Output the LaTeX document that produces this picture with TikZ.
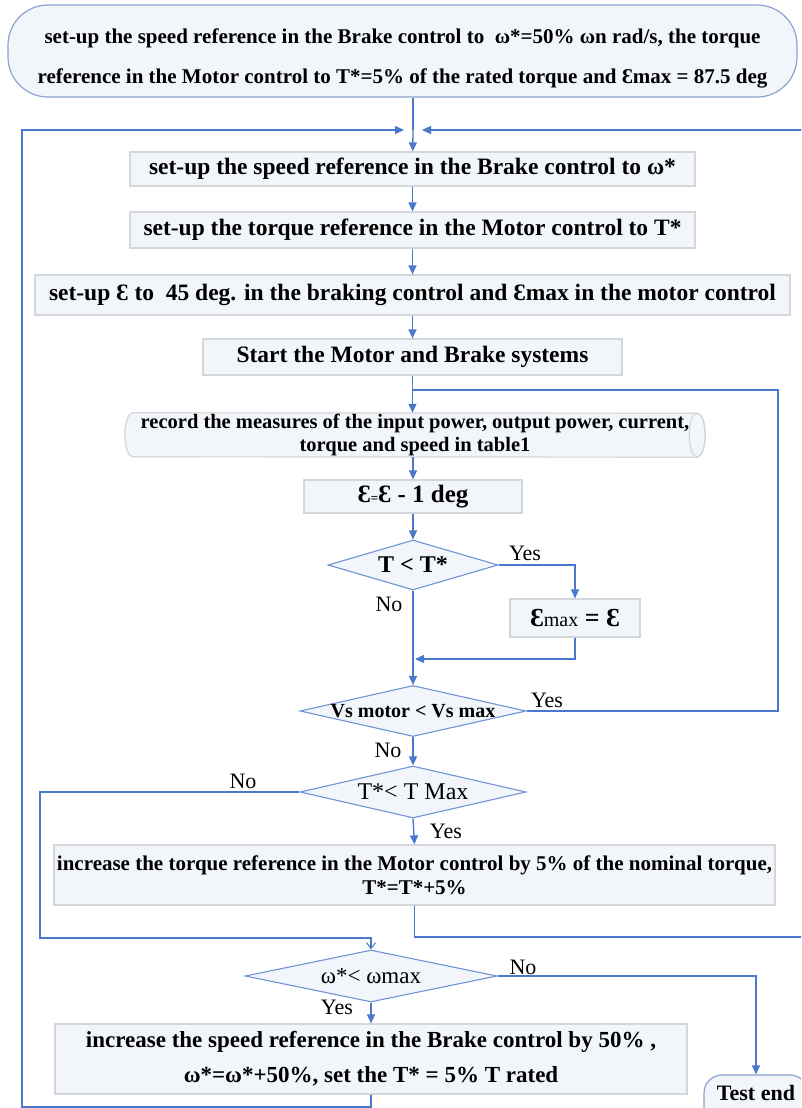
\documentclass[tikz,border=0pt]{standalone}
\usepackage{fontspec}
\setmainfont{Liberation Serif}
\usetikzlibrary{shapes.geometric,arrows.meta,calc}

\definecolor{flow}{HTML}{4A78CC}
\definecolor{flowthin}{HTML}{6F93D3}
\definecolor{boxfill}{HTML}{F2F6FA}
\definecolor{boxdraw}{HTML}{D3D7DB}
\definecolor{termdraw}{HTML}{8AA3CF}

\newcommand{\fs}[2]{\fontsize{#1}{#2}\selectfont}

\tikzset{
  proc/.style={draw=boxdraw, line width=1.2pt, fill=boxfill, inner sep=0pt,
    align=center, font=\bfseries\fs{23.5}{27}},
  term/.style={draw=termdraw, line width=1.2pt, fill=boxfill, inner sep=0pt,
    align=center, font=\bfseries\fs{23}{27}},
  decide/.style={diamond, draw=flowthin, line width=1.1pt, fill=boxfill,
    inner sep=0pt},
  dtext/.style={font=\bfseries\fs{22}{26}, inner sep=0pt},
  lbl/.style={font=\fs{22}{26}, inner sep=0pt},
  flowline/.style={draw=flow, line width=1.3pt},
  arr/.style={flowline, -{Triangle[length=9pt,width=8pt]}},
  openarr/.style={flowline, -{Straight Barb[length=6pt,width=9pt,line width=1pt]}},
}

\begin{document}
\begin{tikzpicture}[x=1pt,y=-1pt]
\useasboundingbox (0,0) rectangle (801,1108);
\clip (0,0) rectangle (801,1108);
\fill[white] (0,0) rectangle (801,1108);

% ---- nodes ----
\node[term, rounded corners=40pt, minimum width=789pt, minimum height=92pt,
      label={[font=\bfseries\fs{21}{40}, align=center, yshift=-7pt]center:set-up the speed reference in the Brake control to\ \ ω*=50\% ωn rad/s, the torque\\
   reference in the Motor control to T*=5\% of the rated torque and Ɛmax = 87.5 deg}]
  (start) at (402.5,51) {};

\node[proc, minimum width=565pt, minimum height=34pt] (b1) at (412.5,169)
  {set-up the speed reference in the Brake control to ω*};
\node[proc, minimum width=565pt, minimum height=36pt] (b2) at (412.5,230)
  {set-up the torque reference in the Motor control to T*};
\node[proc, minimum width=755pt, minimum height=40pt] (b3) at (412.5,295)
  {set-up Ɛ to\ \ 45 deg. in the braking control and Ɛmax in the motor control};
\node[proc, minimum width=419pt, minimum height=36pt] (b4) at (412.5,357)
  {Start the Motor and Brake systems};

% data store drawn as a horizontal cylinder around an outline-free node
\node[inner sep=0pt, minimum width=580pt, minimum height=44pt] (rec) at (415,435) {};
\path[fill=boxfill, draw=boxdraw, line width=1.2pt]
  ($(rec.north west)+(8,0)$) arc[start angle=270, end angle=90, x radius=8, y radius=22]
  -- ($(rec.south east)-(8,0)$) arc[start angle=90, end angle=-90, x radius=8, y radius=22]
  -- cycle;
\draw[boxdraw, line width=1.2pt] ($(rec.east)-(8,0)$) ellipse[x radius=8, y radius=22];
\node[font=\bfseries\fs{20.5}{23}, align=center, inner sep=0pt] (rect) at (rec.center)
  {record the measures of the input power, output power, current,\\torque and speed in table1};

\node[proc, minimum width=218pt, minimum height=33pt, font=\bfseries\fs{25}{29}] (eps) at (413,496.5)
  {Ɛ{\fs{13}{15}=}Ɛ - 1 deg};

\node[decide, minimum width=170pt, minimum height=50pt,
      label={[dtext, font=\bfseries\fs{24}{28}]center:T < T*}] (d1) at (413,565) {};

\node[proc, minimum width=130pt, minimum height=38pt, font=\bfseries\fs{26}{30}] (emx) at (575,618)
  {Ɛ{\mdseries\fs{20}{24}max} = Ɛ};

\node[decide, minimum width=226pt, minimum height=51pt,
      label={[dtext, font=\bfseries\fs{20}{24}]center:Vs motor < Vs max}] (d2) at (413,711) {};

\node[decide, minimum width=226pt, minimum height=52pt,
      label={[dtext, font=\fs{24}{28}]center:T*< T Max}] (d3) at (413,792) {};

\node[proc, minimum width=721pt, minimum height=60pt, font=\bfseries\fs{21}{24}] (inc1) at (414.5,875)
  {increase the torque reference in the Motor control by 5\% of the nominal torque,\\T*=T*+5\%};

\node[decide, minimum width=252pt, minimum height=52pt,
      label={[dtext, font=\fs{23}{27}]center:ω*< ωmax}] (d4) at (371,976) {};

\node[proc, minimum width=632pt, minimum height=70pt, font=\bfseries\fs{23}{35}] (inc2) at (371,1059)
  {increase the speed reference in the Brake control by 50\% ,\\ω*=ω*+50\%, set the T* = 5\% T rated};

\node[term, rounded corners=18pt, minimum width=104pt, minimum height=50pt,
      label={[font=\bfseries\fs{22}{26}, inner sep=0pt, yshift=7pt]center:Test end}]
  (tend) at (756,1100) {};

% ---- route points ----
\coordinate (J)  at (413,130);
\coordinate (JL) at (404,130);
\coordinate (JR) at (422,130);
\coordinate (LB) at (22,1107);
\coordinate (LT) at (22,130);
\coordinate (RB) at (830,937);
\coordinate (RT) at (830,130);
\coordinate (VR1) at (778,711);
\coordinate (VR2) at (778,390);
\coordinate (VJ) at (413,390);
\coordinate (MJ) at (415,659);
\coordinate (NB) at (40,938);

% ---- connectors ----
\draw[flowline] (J |- start.south) -- (J);
\draw[arr] (J) -- (b1);
\draw[arr] (b1) -- (b2);
\draw[arr] (b2) -- (b3);
\draw[arr] (b3) -- (b4);
\draw[arr] (b4.south) -- (b4.south |- rec.north);
\draw[arr] (eps.north |- rec.south) -- (eps.north);
\draw[arr] (eps) -- (d1);
\draw[arr] (d1.east) -| (emx.north);
\draw[arr] (emx.south) |- (MJ);
\draw[arr] (d1.south) -- (d2.north);
\draw[flowline] (d2.east) -- (VR1) -- (VR2) -- (VJ);
\draw[arr] (d2.south) -- (d3.north);
\draw[arr] (d3.south) -- (inc1.north);
\draw[openarr] (d3.west) -| (NB) -| (d4.north);
\draw[arr] (d4.south) -- (inc2.north);
\draw[arr] (d4.east) -| (tend.north);

% loops back to the top
\draw[arr] (inc2.south) -- (inc2.south |- LB) -- (LB) -- (LT) -- (JL);
\draw[arr] (inc1.south) -- (inc1.south |- RB) -- (RB) -- (RT) -- (JR);

% ---- branch labels ----
\node[lbl] (y1) at (525,553) {Yes};
\node[lbl] (n1) at (389,604) {No};
\node[lbl] (y2) at (547,700) {Yes};
\node[lbl] (n2) at (388,750) {No};
\node[lbl] (n3) at (243,781) {No};
\node[lbl] (y3) at (446,831) {Yes};
\node[lbl] (n4) at (523,967) {No};
\node[lbl] (y4) at (337,1007) {Yes};
\end{tikzpicture}
\end{document}
